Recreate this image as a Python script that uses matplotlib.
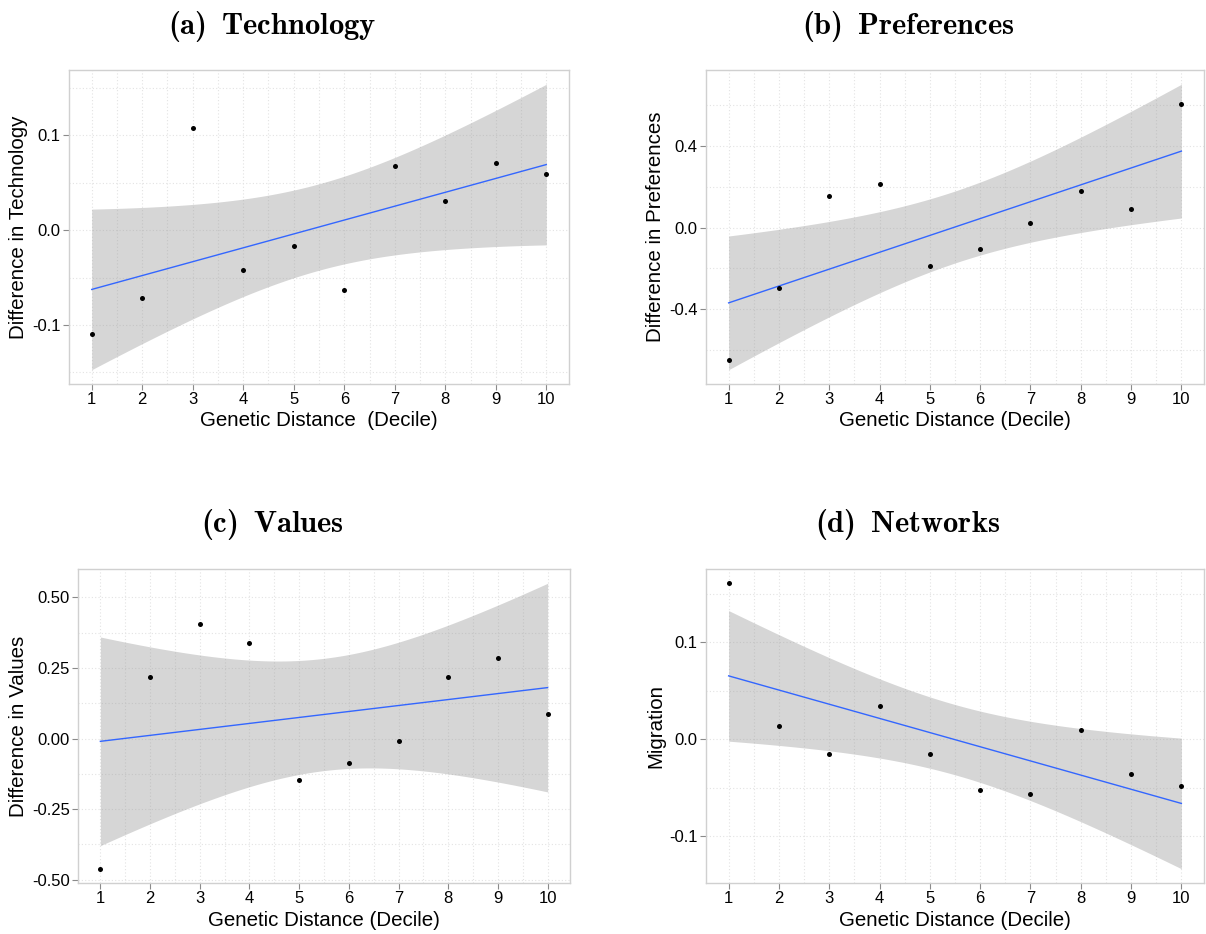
import numpy as np
import matplotlib
matplotlib.use("Agg")
import matplotlib.pyplot as plt

# Decile of genetic distance
deciles = np.arange(1, 11)

# Mean differences per decile
technology = [-0.110, -0.0716, 0.108, -0.042, -0.017, -0.063, 0.068, 0.0305, 0.0705, 0.059]
preferences = [-0.648, -0.297, 0.153, 0.2155, -0.188, -0.103, 0.023, 0.180, 0.091, 0.604]
values = [-0.461, 0.219, 0.4045, 0.338, -0.146, -0.085, -0.0094, 0.219, 0.284, 0.088]
migration = [0.1609, 0.0141, -0.0154, 0.0346, -0.0154, -0.0528, -0.0563, 0.0099, -0.0357, -0.048]

titles = ["(a)\\ \\,Technology", "(b)\\ \\,Preferences", "(c)\\ \\,Values", "(d)\\ \\,Networks"]
ylabels = ["Difference in Technology", "Difference in Preferences",
           "Difference in Values", "Migration"]
xlabels = ["Genetic Distance  (Decile)", "Genetic Distance (Decile)",
           "Genetic Distance (Decile)", "Genetic Distance (Decile)"]
yticks = [[-0.1, 0.0, 0.1], [-0.4, 0.0, 0.4],
          [-0.5, -0.25, 0.0, 0.25, 0.5], [-0.1, 0.0, 0.1]]
yticklabels = [["-0.1", "0.0", "0.1"], ["-0.4", "0.0", "0.4"],
               ["-0.50", "-0.25", "0.00", "0.25", "0.50"], ["-0.1", "0.0", "0.1"]]

T_CRIT = 2.306004  # t(0.975, df=8)


def lm_band(x, y, xs):
    # plain OLS fit with 95% confidence band, like geom_smooth(method="lm")
    x = np.asarray(x, float)
    y = np.asarray(y, float)
    n = len(x)
    b, a = np.polyfit(x, y, 1)
    resid = y - (a + b * x)
    s = np.sqrt(np.sum(resid ** 2) / (n - 2))
    sxx = np.sum((x - x.mean()) ** 2)
    fit = a + b * xs
    se = s * np.sqrt(1.0 / n + (xs - x.mean()) ** 2 / sxx)
    return fit, fit - T_CRIT * se, fit + T_CRIT * se


def main():
    fig = plt.figure(figsize=(12.06, 9.34), dpi=100)
    W, H = 1206.0, 934.0
    # axes boxes in pixels: left, right, top, bottom
    boxes = [(69, 569, 70, 384), (706, 1204, 70, 384),
             (78, 570, 569, 883), (706, 1204, 569, 883)]
    title_pos = [(272, 27), (908, 27), (272, 525), (908, 525)]
    series = [technology, preferences, values, migration]

    for i in range(4):
        l, r, t, b = boxes[i]
        ax = fig.add_axes([l / W, 1 - b / H, (r - l) / W, (b - t) / H])
        y = series[i]
        xs = np.linspace(1, 10, 100)
        fit, lo, hi = lm_band(deciles, y, xs)

        ax.fill_between(xs, lo, hi, color="#999999", alpha=0.4, lw=0, zorder=2)
        ax.plot(xs, fit, color="#3366FF", lw=1.0, zorder=3)
        ax.scatter(deciles, y, s=13, color="black", zorder=4, linewidths=0)

        ymin = min(lo.min(), min(y))
        ymax = max(hi.max(), max(y))
        pad = (ymax - ymin) * 0.05
        ax.set_xlim(1 - 0.45, 10 + 0.45)

        ax.set_xticks(deciles)
        ax.set_xticks(np.arange(1.5, 10, 1), minor=True)
        ax.set_yticks(yticks[i])
        ax.set_yticklabels(yticklabels[i])
        step = yticks[i][1] - yticks[i][0]
        ax.set_yticks(np.arange(yticks[i][0] - step * 1.5, yticks[i][-1] + step * 2, step), minor=True)
        ax.set_ylim(ymin - pad, ymax + pad)

        ax.grid(True, which="both", color="#E3E3E3", lw=0.8, ls=(0, (1, 2)), zorder=0)
        ax.set_axisbelow(True)
        for sp in ax.spines.values():
            sp.set_color("#D0D0D0")
            sp.set_linewidth(1.0)
        ax.tick_params(which="major", length=4, color="#8A8A8A", width=0.8,
                       labelsize=12, labelcolor="black", pad=2)
        ax.tick_params(which="minor", length=0)

        ax.set_xlabel(xlabels[i], fontsize=14.8, labelpad=3)
        ax.set_ylabel(ylabels[i], fontsize=14.8, labelpad=3)

        tx, ty = title_pos[i]
        fig.text(tx / W, 1 - ty / H, "$\\mathbf{" + titles[i] + "}$",
                 ha="center", va="center", fontsize=22)

    fig.savefig("out.png", dpi=100)


if __name__ == "__main__":
    plt.rcParams["font.family"] = ["Liberation Sans", "DejaVu Sans"]
    plt.rcParams["mathtext.fontset"] = "custom"
    plt.rcParams["mathtext.bf"] = "cmb10"
    plt.rcParams["mathtext.rm"] = "cmr10"
    main()
